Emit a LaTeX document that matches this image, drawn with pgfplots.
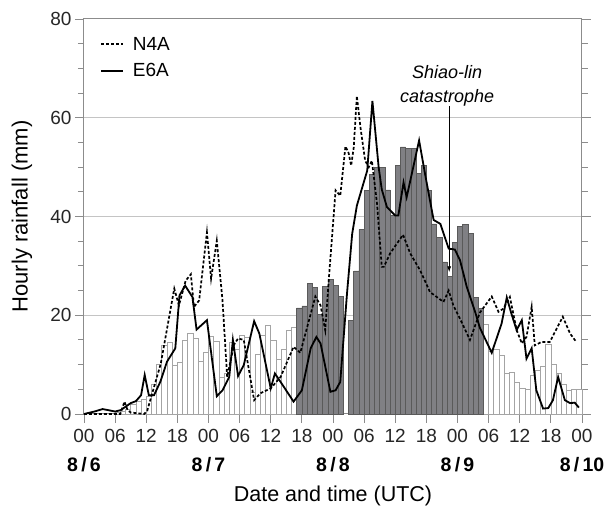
\documentclass[border=0pt]{standalone}
\usepackage{fontspec}
\setmainfont{Liberation Sans}
\usepackage{pgfplots}
\usepackage{pgfplotstable}
\pgfplotsset{compat=1.18}
\usetikzlibrary{arrows.meta}
\definecolor{axgray}{HTML}{8C8C8C}
\definecolor{gridgray}{HTML}{C4C4C4}
\definecolor{bargray}{HTML}{808084}
\definecolor{baredge}{HTML}{5A5A5A}
\definecolor{lightedge}{HTML}{A4A4A4}

% hourly bars, x = middle of the hour
\pgfplotstableread{
x y
6.5 0.3
7.5 0.6
8.5 1.0
9.5 2.0
10.5 2.5
11.5 3.0
12.5 3.5
13.5 6.0
14.5 10.0
15.5 14.0
16.5 14.6
17.5 9.8
18.5 10.5
19.5 15.0
20.5 16.3
21.5 15.3
22.5 10.6
23.5 12.5
24.5 15.7
25.5 14.8
26.5 7.5
27.5 8.3
28.5 14.6
29.5 13.0
30.5 16.0
31.5 15.6
32.5 4.3
33.5 12.0
34.5 16.0
35.5 18.0
36.5 15.0
37.5 11.0
38.5 13.0
39.5 17.0
40.5 17.6
77.5 18.1
78.5 12.7
79.5 13.1
80.5 11.8
81.5 8.2
82.5 8.4
83.5 6.5
84.5 5.2
85.5 5.0
86.5 7.9
87.5 8.8
88.5 9.6
89.5 14.1
90.5 10.1
91.5 8.3
92.5 6.1
93.5 4.8
94.5 5.0
95.5 5.0
}\lightbars

\pgfplotstableread{
x y
41.5 21.5
42.5 21.9
43.5 26.4
44.5 25.6
45.5 20.2
46.5 25.9
47.5 27.2
48.5 26.0
49.5 23.8
51.5 19.0
52.5 29.0
53.5 37.4
54.5 45.3
55.5 48.6
56.5 50.0
57.5 50.0
58.5 45.4
59.5 40.2
60.5 50.4
61.5 54.1
62.5 53.8
63.5 53.8
64.5 48.8
65.5 50.3
66.5 45.3
67.5 38.5
68.5 35.8
69.5 30.8
70.5 27.9
71.5 34.8
72.5 38.0
73.5 38.4
74.5 36.6
75.5 23.6
76.5 21.4
}\darkbars

\begin{document}
\begin{tikzpicture}
\begin{axis}[
  scale only axis,
  width=498pt, height=395pt,
  xmin=0, xmax=96, ymin=0, ymax=80,
  clip=false,
  axis line style={draw=axgray, line width=1pt},
  tick align=outside,
  xtick pos=bottom,
  ytick pos=both,
  yticklabel pos=left,
  xtick={0,6,...,96},
  xticklabels={00,06,12,18,00,06,12,18,00,06,12,18,00,06,12,18,00},
  ytick={0,20,40,60,80},
  minor y tick num=3,
  major tick length=9pt,
  minor tick length=6pt,
  every tick/.style={draw=axgray, line width=0.9pt},
  ymajorgrids,
  grid style={draw=gridgray, line width=1pt},
  /pgf/number format/assume math mode=true,
  tick label style={font=\fontsize{19}{21}\selectfont, text=black!85},
  xticklabel style={yshift=-3pt},
  xlabel={Date and time (UTC)},
  ylabel={Hourly rainfall (mm)},
  xlabel style={font=\fontsize{21.5}{25}\selectfont, at={(axis description cs:0.5,-0.208)}, anchor=center},
  ylabel style={font=\fontsize{22}{25}\selectfont, at={(axis description cs:-0.1245,0.5)}, anchor=center},
  legend style={at={(axis description cs:0.032,0.96)}, anchor=north west, draw=none, fill=none,
    inner sep=0pt, row sep=8pt, font=\fontsize{19}{21}\selectfont,
    /tikz/every odd column/.append style={column sep=7pt}},
  legend cell align=left,
  legend image code/.code={\draw[#1] (0pt,0pt) -- (22pt,0pt);},
]
\addplot[ybar, bar width=1, bar shift=0pt, fill=white, draw=lightedge, line width=0.7pt, forget plot] table {\lightbars};
\addplot[ybar, bar width=1, bar shift=0pt, fill=bargray, draw=baredge, line width=0.5pt, forget plot] table {\darkbars};

\addplot[black, line width=1.7pt, dash pattern=on 3pt off 2pt] coordinates {
(0,0) (7,0) (7.8,2.5) (8.4,0.8) (9,0.3) (11.6,0) (12.2,0.7) (14.8,10.2) (17.4,25.4) (18.3,22) (19.6,27) (20.6,28.3) (21.2,21.7) (22.2,23) (23.7,36.8) (24.5,27.4) (25.6,35.1) (26.7,23) (27.6,7.5) (28.9,14) (29.7,15.3) (30.8,15) (31.8,8.9) (32.8,2.8) (34,4.2) (36,5.2) (37.9,7.5) (40.4,13.6) (41.7,12.4) (44.6,23.8) (45.6,22) (46.5,17) (47.2,27.4) (48.5,45.3) (49.4,44.2) (50.4,54.2) (51,52.9) (51.5,50.3) (52,54) (52.6,64.4) (53.3,58) (54.2,51.3) (54.9,50) (55.5,51.3) (56.5,42.5) (57.4,29.8) (57.8,29.8) (59,32.5) (61.5,36.3) (62.9,32.5) (64.8,29.1) (66.7,24.7) (69.3,22.7) (70.3,25) (71.2,22) (72.8,18.6) (74.4,15) (76.3,20.5) (78.6,23.8) (79.9,20.7) (80.8,21.3) (82.1,23.7) (83.4,17) (84.4,14.3) (85.3,15.6) (86.3,21.7) (86.9,13.9) (88.2,14.6) (89.8,14.6) (92.3,19.7) (93.7,16.3) (94.9,14.6)
};
\addlegendentry{N4A}
\addplot[black, line width=1.8pt] coordinates {
(0,0) (2,0.5) (3.6,1) (6,0.5) (7.1,0.8) (9,2.2) (10,2.6) (11,3.8) (11.7,7.9) (12.5,3.8) (13.5,3.8) (14.7,6.5) (16,10.6) (17.6,13.3) (18.4,24) (19.5,26) (20.9,23.7) (21.7,17.1) (23.7,19) (25.6,3.6) (26.7,4.8) (28,7.5) (28.7,15) (29.7,7.7) (30.8,9.9) (32.8,18.8) (33.8,16.3) (36,5.2) (36.8,8.2) (37.9,6.5) (40.4,2.5) (42,4.8) (43.7,13.3) (44.8,15.6) (45.6,14.3) (47.5,4.5) (48.5,4.8) (49.4,6.5) (50.7,24.4) (51.7,36.5) (52.6,42.2) (54.6,49.3) (55.6,63.4) (56.8,50) (57.4,45.5) (58.4,41.9) (60,40.2) (60.6,40.2) (61.6,46.9) (62.2,43.9) (64.6,55.4) (65.8,48.3) (67.4,39.3) (68.7,38.5) (70.3,33.5) (71.5,33.3) (72.5,31.1) (73.8,25.7) (75.4,20.7) (76.3,17.5) (78.6,12.4) (80.5,18.3) (81.5,23.6) (82.4,20.3) (83.4,17) (84.4,19) (85.3,11.2) (86.3,13.3) (87.2,4.8) (88.5,1.1) (89.5,1.2) (90.4,2.8) (91.4,7.5) (92.7,2.8) (93.7,2.2) (94.6,2.3) (95.4,1.3)
};
\addlegendentry{E6A}

% annotation
\node[font=\itshape\fontsize{18}{24}\selectfont, align=center] at (axis cs:70,66.5) {Shiao-lin\\catastrophe};
\draw[black, line width=0.8pt, -{Latex[length=6pt,width=4pt]}] (axis cs:70.4,62.4) -- (axis cs:70.4,28.7);

% date labels
\node[font=\bfseries\fontsize{19.5}{22}\selectfont] at (axis cs:0,0) [yshift=-51pt] {8\,/\,6};
\node[font=\bfseries\fontsize{19.5}{22}\selectfont] at (axis cs:24,0) [yshift=-51pt] {8\,/\,7};
\node[font=\bfseries\fontsize{19.5}{22}\selectfont] at (axis cs:48,0) [yshift=-51pt] {8\,/\,8};
\node[font=\bfseries\fontsize{19.5}{22}\selectfont] at (axis cs:72,0) [yshift=-51pt] {8\,/\,9};
\node[font=\bfseries\fontsize{19.5}{22}\selectfont] at (axis cs:96,0) [yshift=-51pt] {8\,/\,10};
\end{axis}
\pgfresetboundingbox
\path (-84pt,-94pt) rectangle (522pt,414pt);
\end{tikzpicture}
\end{document}
